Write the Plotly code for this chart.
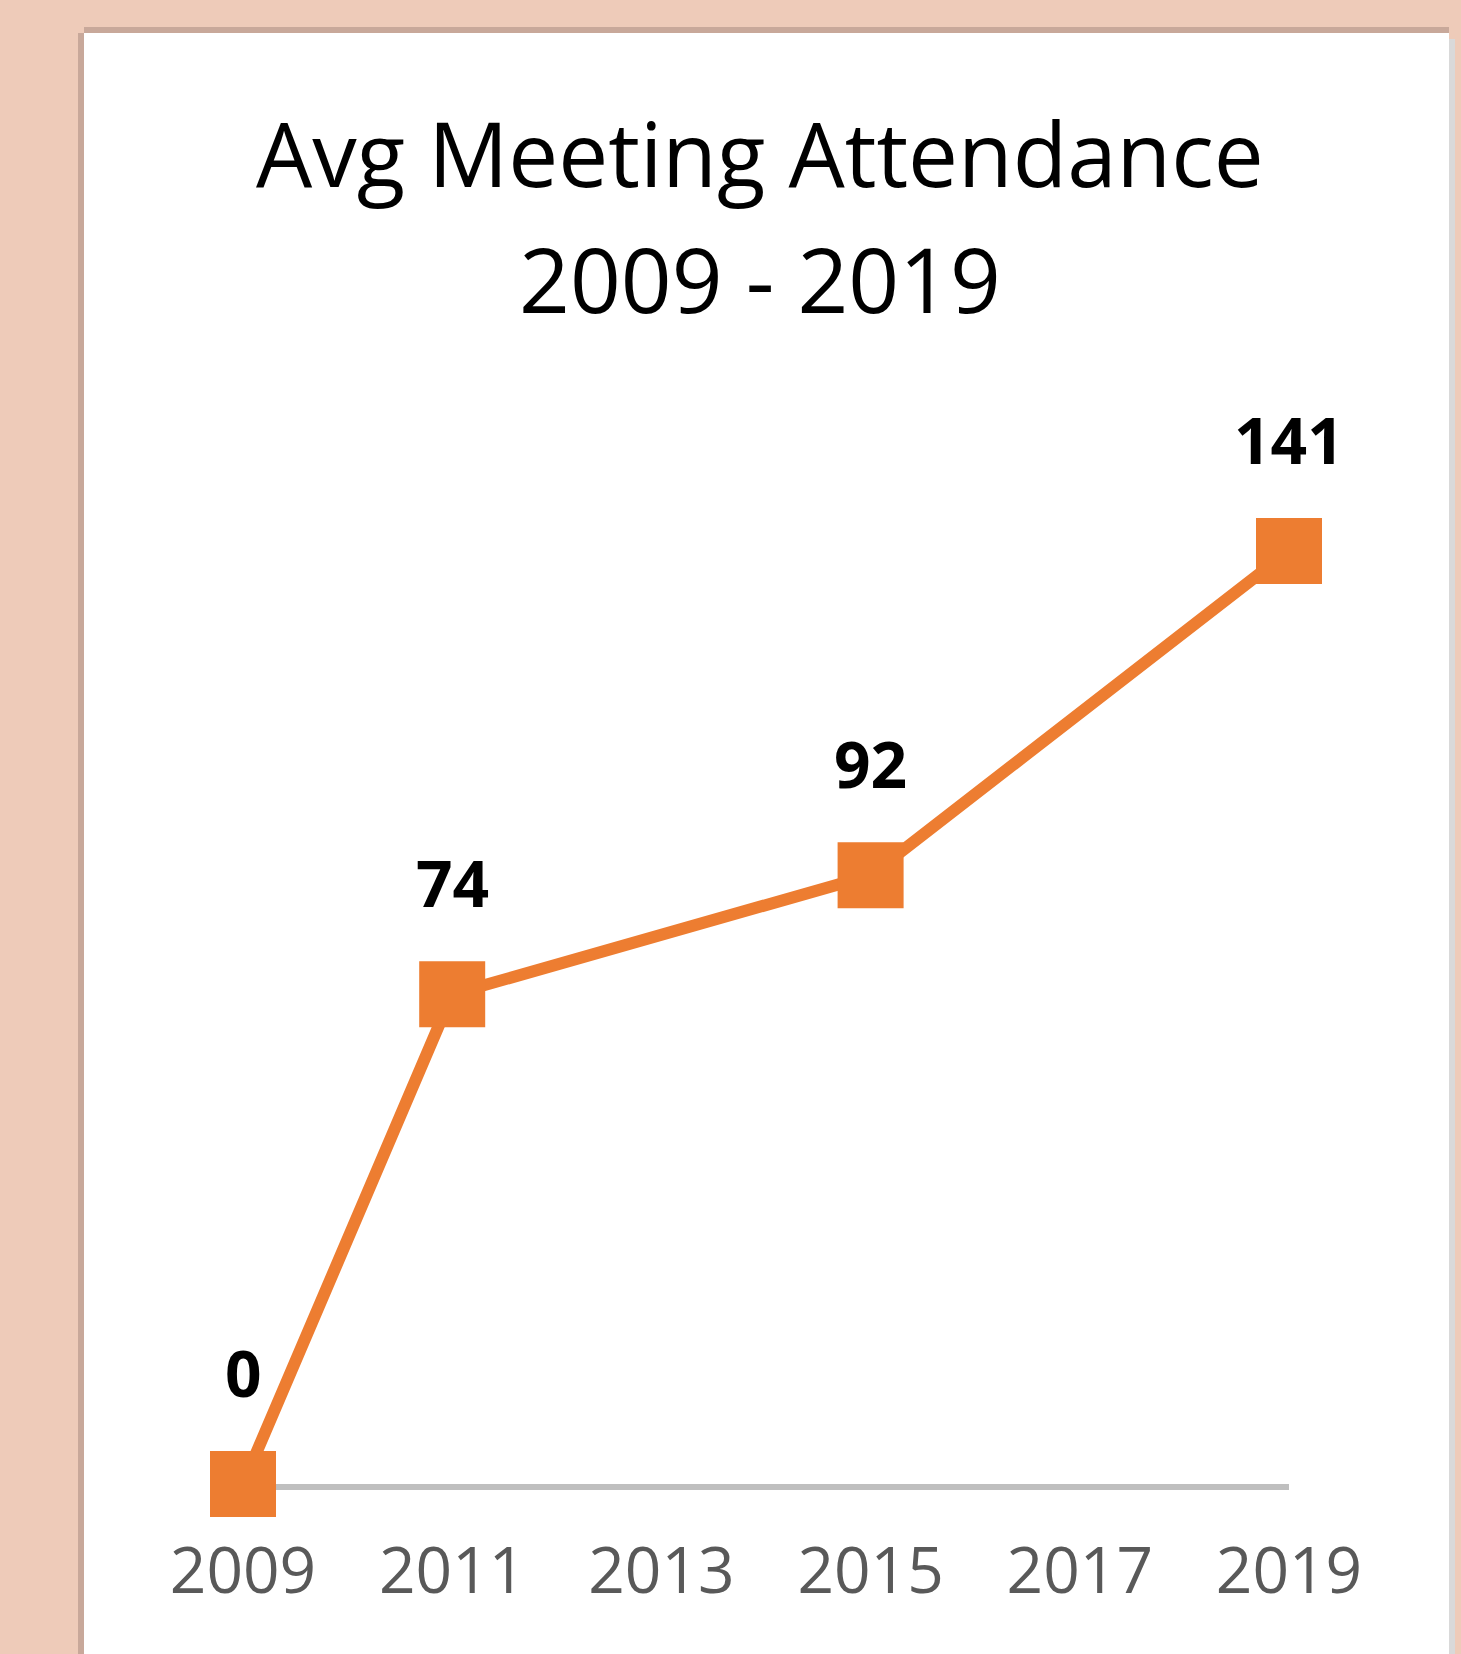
import plotly.graph_objects as go

# ---- data ----
years = [2009, 2011, 2015, 2019]
attendance = [0, 74, 92, 141]
tick_years = [2009, 2011, 2013, 2015, 2017, 2019]
tick_labels = ["2009", "2011", "2013", "2015", "2017", "2019"]
title_lines = ["Avg Meeting Attendance", "2009 - 2019"]

W, H = 1461, 1654
L, R, T, B = 243, 172, 551, 170
PW = W - L - R
PH = H - T - B

def px(x):
    return (x - L) / PW

def py(y):
    return (H - B - y) / PH

ORANGE = "#ED7D31"
PEACH = "#EECBB9"
BORDER = "#C8A89A"

fig = go.Figure()
fig.add_trace(go.Scatter(
    x=years, y=attendance, mode="lines+markers",
    line=dict(color=ORANGE, width=12),
    marker=dict(symbol="square", size=66, color=ORANGE, line=dict(width=0)),
    cliponaxis=False, hoverinfo="skip", showlegend=False,
))

for xv, yv in zip(years, attendance):
    fig.add_annotation(
        x=xv, y=yv, text=f"<b>{yv}</b>", showarrow=False,
        xanchor="center", yanchor="middle", yshift=112,
        font=dict(family="Open Sans", size=64, color="#000000"),
    )

# title lines (centre positions in pixels)
for line, cy in zip(title_lines, [153, 278]):
    fig.add_annotation(
        xref="paper", yref="paper", x=px(760), y=py(cy), text=line, showarrow=False,
        xanchor="center", yanchor="middle",
        font=dict(family="Open Sans", size=89, color="#000000"),
    )

shapes = [
    dict(type="rect", xref="paper", yref="paper", x0=px(84), x1=px(1449), y0=py(H + 10), y1=py(33),
         fillcolor="white", line=dict(width=0), layer="below"),
    dict(type="rect", xref="paper", yref="paper", x0=px(84), x1=px(1449), y0=py(33), y1=py(27),
         fillcolor=BORDER, line=dict(width=0), layer="below"),
    dict(type="rect", xref="paper", yref="paper", x0=px(78), x1=px(84), y0=py(H + 10), y1=py(33),
         fillcolor=BORDER, line=dict(width=0), layer="below"),
    dict(type="rect", xref="paper", yref="paper", x0=px(1449), x1=px(1455), y0=py(H + 10), y1=py(39),
         fillcolor="#D9D9D9", line=dict(width=0), layer="below"),
]

fig.update_layout(
    width=W, height=H,
    margin=dict(l=L, r=R, t=T, b=B),
    paper_bgcolor=PEACH, plot_bgcolor="rgba(0,0,0,0)",
    shapes=shapes,
    xaxis=dict(range=[2009, 2019], tickvals=tick_years, ticktext=tick_labels,
               showgrid=False, zeroline=False, showline=True, linecolor="#BFBFBF", linewidth=6,
               ticks="outside", ticklen=26, tickcolor="rgba(0,0,0,0)", layer="below traces",
               tickfont=dict(family="Open Sans", size=64, color="#595959")),
    yaxis=dict(range=[0, 141], showgrid=False, zeroline=False, showline=False,
               showticklabels=False, ticks=""),
)

fig.write_html("out.html", config={"displayModeBar": False},
               post_script="document.body.style.margin='0';document.body.style.overflow='hidden';")
